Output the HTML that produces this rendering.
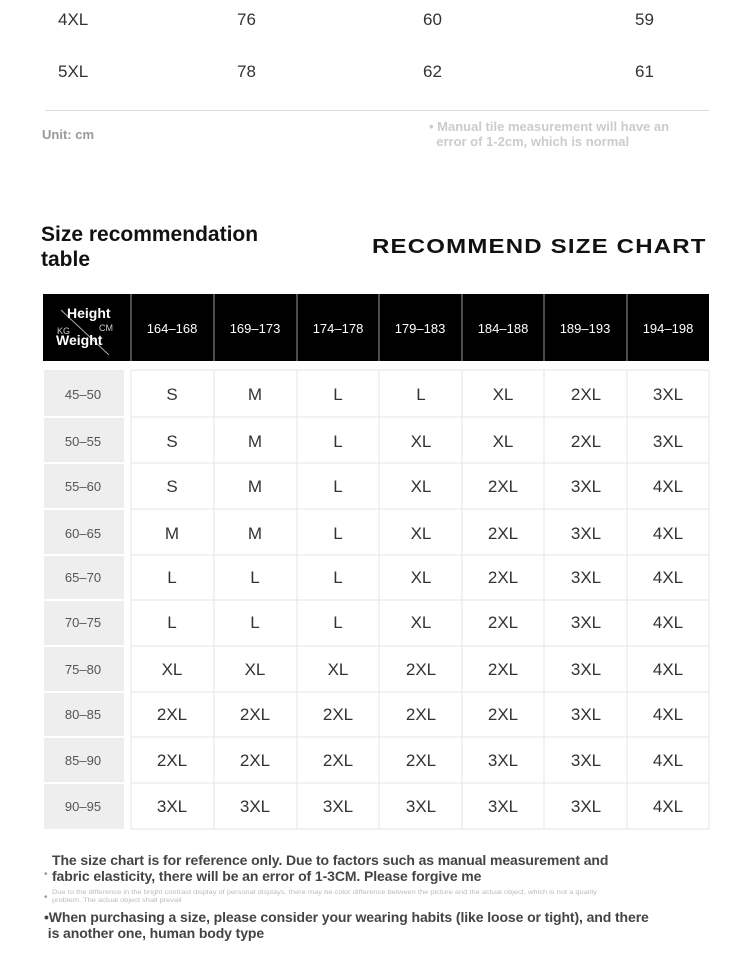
<!DOCTYPE html><html><head><style>
body{margin:0;width:750px;height:956px;background:#fff;position:relative;overflow:hidden;font-family:"Liberation Sans",sans-serif;}
.a{position:absolute;white-space:nowrap;}
.t{font-size:17px;color:#333;}
</style></head><body>
<div class="a t" style="left:58px;top:10px">4XL</div><div class="a t" style="left:237px;top:10px">76</div><div class="a t" style="left:423px;top:10px">60</div><div class="a t" style="left:635px;top:10px">59</div>
<div class="a t" style="left:58px;top:62px">5XL</div><div class="a t" style="left:237px;top:62px">78</div><div class="a t" style="left:423px;top:62px">62</div><div class="a t" style="left:635px;top:62px">61</div>
<div class="a" style="left:45px;top:110px;width:664px;height:1px;background:#ddd"></div>
<div class="a" style="left:42px;top:127px;font-size:13px;font-weight:bold;color:#999">Unit: cm</div>
<div class="a" style="left:429px;top:119px;font-size:13px;font-weight:bold;color:#ccc;line-height:15px">• Manual tile measurement will have an<br>&nbsp;&nbsp;error of 1-2cm, which is normal</div>
<div class="a" style="left:41px;top:222px;font-size:21px;font-weight:bold;color:#111;line-height:25px">Size recommendation<br>table</div>
<div class="a" style="left:372px;top:236px;font-size:20px;font-weight:900;color:#111;letter-spacing:1px;transform:scaleX(1.2);transform-origin:left">RECOMMEND SIZE CHART</div>
<div class="a" style="left:43px;top:294px;width:666px;height:67px;background:#000"></div>
<svg class="a" style="left:43px;top:294px" width="666" height="67">
<g stroke="#999" stroke-width="1"><line x1="88" y1="0" x2="88" y2="67"/><line x1="171" y1="0" x2="171" y2="67"/><line x1="254" y1="0" x2="254" y2="67"/><line x1="336" y1="0" x2="336" y2="67"/><line x1="419" y1="0" x2="419" y2="67"/><line x1="501" y1="0" x2="501" y2="67"/><line x1="584" y1="0" x2="584" y2="67"/></g>
<line x1="18" y1="16" x2="66" y2="61" stroke="#aaa"/>
<text x="24" y="24" fill="#fff" font-size="14" font-weight="bold" font-family="Liberation Sans">Height</text>
<text x="14" y="40" fill="#ccc" font-size="9" font-family="Liberation Sans">KG</text>
<text x="56" y="37" fill="#ccc" font-size="9" font-family="Liberation Sans">CM</text>
<text x="13" y="51" fill="#fff" font-size="14" font-weight="bold" font-family="Liberation Sans">Weight</text>
<g fill="#fff" font-size="13" font-family="Liberation Sans" text-anchor="middle">
<text x="129" y="39">164–168</text><text x="212" y="39">169–173</text><text x="295" y="39">174–178</text><text x="377" y="39">179–183</text><text x="460" y="39">184–188</text><text x="542" y="39">189–193</text><text x="625" y="39">194–198</text></g>
</svg>
<svg class="a" style="left:0;top:0" width="750" height="956">
<rect x="44" y="370" width="80" height="459" fill="#eee"/>
<g stroke="#fff" stroke-width="2"><line x1="44" y1="417" x2="124" y2="417"/><line x1="44" y1="463" x2="124" y2="463"/><line x1="44" y1="509" x2="124" y2="509"/><line x1="44" y1="555" x2="124" y2="555"/><line x1="44" y1="600" x2="124" y2="600"/><line x1="44" y1="646" x2="124" y2="646"/><line x1="44" y1="692" x2="124" y2="692"/><line x1="44" y1="737" x2="124" y2="737"/><line x1="44" y1="783" x2="124" y2="783"/></g>
<g stroke="#e6e6e6" stroke-width="1" fill="none">
<rect x="131" y="370" width="578" height="459"/>
<line x1="131" y1="417" x2="709" y2="417"/><line x1="131" y1="463" x2="709" y2="463"/><line x1="131" y1="509" x2="709" y2="509"/><line x1="131" y1="555" x2="709" y2="555"/><line x1="131" y1="600" x2="709" y2="600"/><line x1="131" y1="646" x2="709" y2="646"/><line x1="131" y1="692" x2="709" y2="692"/><line x1="131" y1="737" x2="709" y2="737"/><line x1="131" y1="783" x2="709" y2="783"/>
<line x1="214" y1="370" x2="214" y2="829"/><line x1="297" y1="370" x2="297" y2="829"/><line x1="379" y1="370" x2="379" y2="829"/><line x1="462" y1="370" x2="462" y2="829"/><line x1="544" y1="370" x2="544" y2="829"/><line x1="627" y1="370" x2="627" y2="829"/></g>
<g font-family="Liberation Sans" text-anchor="middle">
<g fill="#555" font-size="13">
<text x="83" y="399">45–50</text><text x="83" y="446">50–55</text><text x="83" y="491">55–60</text><text x="83" y="538">60–65</text><text x="83" y="582">65–70</text><text x="83" y="627">70–75</text><text x="83" y="674">75–80</text><text x="83" y="719">80–85</text><text x="83" y="765">85–90</text><text x="83" y="811">90–95</text></g>
<g fill="#333" font-size="17">
<g transform="translate(0,400)"><text x="172">S</text><text x="255">M</text><text x="338">L</text><text x="421">L</text><text x="503">XL</text><text x="586">2XL</text><text x="668">3XL</text></g>
<g transform="translate(0,447)"><text x="172">S</text><text x="255">M</text><text x="338">L</text><text x="421">XL</text><text x="503">XL</text><text x="586">2XL</text><text x="668">3XL</text></g>
<g transform="translate(0,492)"><text x="172">S</text><text x="255">M</text><text x="338">L</text><text x="421">XL</text><text x="503">2XL</text><text x="586">3XL</text><text x="668">4XL</text></g>
<g transform="translate(0,539)"><text x="172">M</text><text x="255">M</text><text x="338">L</text><text x="421">XL</text><text x="503">2XL</text><text x="586">3XL</text><text x="668">4XL</text></g>
<g transform="translate(0,583)"><text x="172">L</text><text x="255">L</text><text x="338">L</text><text x="421">XL</text><text x="503">2XL</text><text x="586">3XL</text><text x="668">4XL</text></g>
<g transform="translate(0,628)"><text x="172">L</text><text x="255">L</text><text x="338">L</text><text x="421">XL</text><text x="503">2XL</text><text x="586">3XL</text><text x="668">4XL</text></g>
<g transform="translate(0,675)"><text x="172">XL</text><text x="255">XL</text><text x="338">XL</text><text x="421">2XL</text><text x="503">2XL</text><text x="586">3XL</text><text x="668">4XL</text></g>
<g transform="translate(0,720)"><text x="172">2XL</text><text x="255">2XL</text><text x="338">2XL</text><text x="421">2XL</text><text x="503">2XL</text><text x="586">3XL</text><text x="668">4XL</text></g>
<g transform="translate(0,766)"><text x="172">2XL</text><text x="255">2XL</text><text x="338">2XL</text><text x="421">2XL</text><text x="503">3XL</text><text x="586">3XL</text><text x="668">4XL</text></g>
<g transform="translate(0,812)"><text x="172">3XL</text><text x="255">3XL</text><text x="338">3XL</text><text x="421">3XL</text><text x="503">3XL</text><text x="586">3XL</text><text x="668">4XL</text></g>
</g></g>
</svg>
<div class="a" style="left:52px;top:852px;font-size:14px;font-weight:bold;color:#444;line-height:16px;letter-spacing:-0.1px">The size chart is for reference only. Due to factors such as manual measurement and<br>fabric elasticity, there will be an error of 1-3CM. Please forgive me</div>
<div class="a" style="left:44px;top:869px;font-size:10px;color:#999">•</div>
<div class="a" style="left:52px;top:889px;font-size:6.8px;color:#bbb;line-height:8px;transform:scaleX(1.1);transform-origin:left">Due to the difference in the bright contrast display of personal displays, there may be color difference between the picture and the actual object, which is not a quality<br>problem. The actual object shall prevail</div>
<div class="a" style="left:44px;top:892px;font-size:10px;color:#999">•</div>
<div class="a" style="left:44px;top:909px;font-size:14px;font-weight:bold;color:#444;line-height:16px;letter-spacing:-0.1px">•When purchasing a size, please consider your wearing habits (like loose or tight), and there<br>&nbsp;is another one, human body type</div>
</body></html>
